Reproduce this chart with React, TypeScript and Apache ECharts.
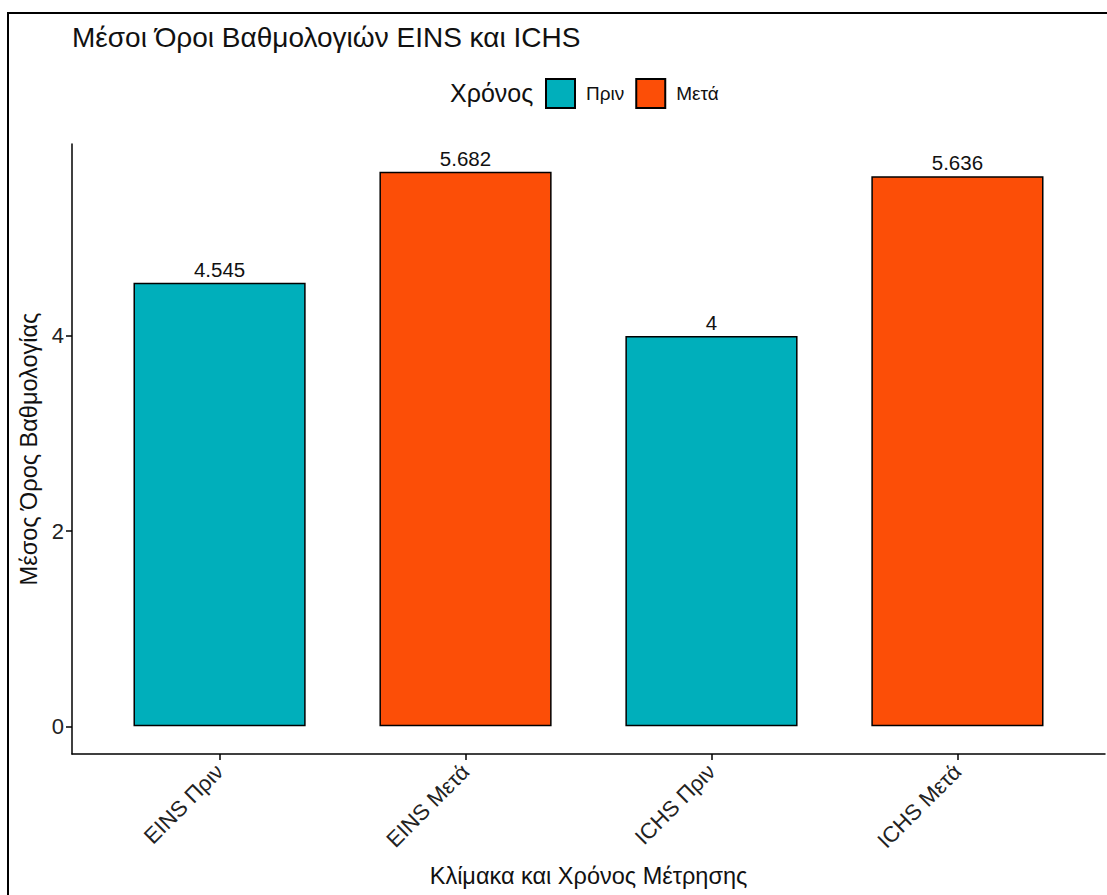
import React, { useEffect, useRef } from "react";
import * as echarts from "echarts";

const categories = ["EINS Πριν", "EINS Μετά", "ICHS Πριν", "ICHS Μετά"];
const seriesNames = ["Πριν", "Μετά"];
const beforeValues = [4.545, 4];
const beforeIdx = [0, 2];
const afterValues = [5.682, 5.636];
const afterIdx = [1, 3];
const yTicks = [0, 2, 4];
const colors = ["#00AFBB", "#FC4E07"];

const FONT = "'Liberation Sans', Arial, Helvetica, sans-serif";

export default function App() {
  const ref = useRef<HTMLDivElement>(null);
  useEffect(() => {
    if (!ref.current) return;
    const chart = echarts.init(ref.current, null, { renderer: "svg" });
    const maxV = Math.max(...beforeValues, ...afterValues);
    const labelCfg = {
      show: true,
      position: "top",
      distance: 3,
      color: "#111",
      fontSize: 20.5,
      fontFamily: FONT,
      formatter: (p: any) => String(p.value[1]),
    };
    chart.setOption({
      animation: false,
      backgroundColor: "#fff",
      textStyle: { fontFamily: FONT },
      title: [
        {
          text: "Μέσοι Όροι Βαθμολογιών EINS και ICHS",
          left: 72,
          top: 23,
          padding: 0,
          textStyle: { fontSize: 28, fontWeight: "normal", color: "#111", fontFamily: FONT },
        },
        {
          text: "Χρόνος",
          left: 450,
          top: 80,
          padding: 0,
          textStyle: { fontSize: 25, fontWeight: "normal", color: "#111", fontFamily: FONT },
        },
      ],
      legend: {
        data: seriesNames,
        left: 545,
        top: 78,
        padding: 0,
        icon: "rect",
        itemWidth: 29,
        itemHeight: 29,
        itemGap: 11,
        textStyle: { fontSize: 19, color: "#111", fontFamily: FONT, padding: [0, 0, 0, 6] },
      },
      grid: { left: 72, right: 2, top: 144, bottom: 141, containLabel: false },
      xAxis: {
        type: "value",
        min: -0.6,
        max: categories.length - 1 + 0.6,
        splitLine: { show: false },
        axisLine: { show: true, onZero: false, lineStyle: { color: "#000", width: 1.5 } },
        axisTick: { show: true, length: 6, customValues: categories.map((_, i) => i), lineStyle: { color: "#000", width: 1.5 } },
        axisLabel: {
          customValues: categories.map((_, i) => i),
          formatter: (v: number) => categories[Math.round(v)] ?? "",
          rotate: 45,
          fontSize: 22,
          color: "#222",
          fontFamily: FONT,
          margin: 14,
        },
        name: "Κλίμακα και Χρόνος Μέτρησης",
        nameLocation: "middle",
        nameGap: 110,
        nameTextStyle: { fontSize: 23.5, color: "#111", fontFamily: FONT },
      },
      yAxis: {
        type: "value",
        min: -0.05 * maxV,
        max: maxV * 1.05,
        splitLine: { show: false },
        axisLine: { show: true, onZero: false, lineStyle: { color: "#000", width: 1.5 } },
        axisTick: { show: true, length: 6, customValues: yTicks, lineStyle: { color: "#000", width: 1.5 } },
        axisLabel: {
          customValues: yTicks,
          fontSize: 22,
          color: "#222",
          fontFamily: FONT,
          margin: 8,
        },
        name: "Μέσος Όρος Βαθμολογίας",
        nameLocation: "middle",
        nameGap: 22,
        nameTextStyle: { fontSize: 23.5, color: "#111", fontFamily: FONT },
      },
      series: [
        {
          name: seriesNames[0],
          type: "bar",
          barWidth: "70%",
          barGap: "-100%",
          data: beforeIdx.map((x, i) => [x, beforeValues[i]]),
          itemStyle: { color: colors[0], borderColor: "#000", borderWidth: 1.5 },
          label: labelCfg,
        },
        {
          name: seriesNames[1],
          type: "bar",
          barWidth: "70%",
          barGap: "-100%",
          data: afterIdx.map((x, i) => [x, afterValues[i]]),
          itemStyle: { color: colors[1], borderColor: "#000", borderWidth: 1.5 },
          label: labelCfg,
        },
      ],
      graphic: [
        {
          type: "rect",
          shape: { x: 8, y: 13, width: 1300, height: 1100 },
          style: { fill: "none", stroke: "#000", lineWidth: 2 },
          silent: true,
        },
      ],
    });
    return () => chart.dispose();
  }, []);
  return (
    <div
      ref={ref}
      style={{ position: "absolute", left: 0, top: 0, width: 1107, height: 895 }}
    />
  );
}
